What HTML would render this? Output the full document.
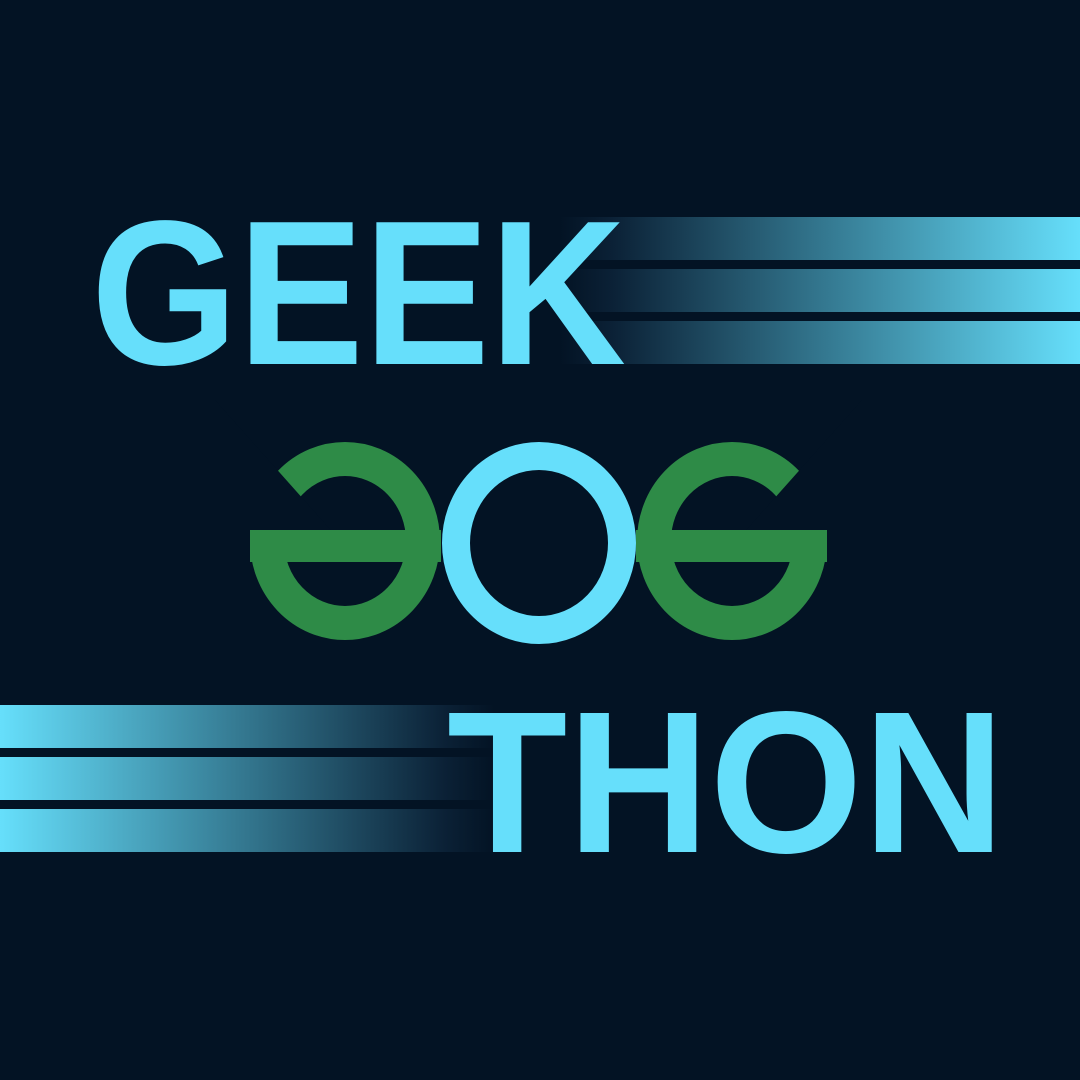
<!DOCTYPE html>
<html><head><meta charset="utf-8"><style>
html,body{margin:0;padding:0;background:#031324;}
svg{display:block}
</style></head><body>
<svg width="1080" height="1080" viewBox="0 0 1080 1080">
<defs>
<linearGradient id="gR" x1="0" x2="1" y1="0" y2="0">
<stop offset="0" stop-color="#031324"/><stop offset="0.1" stop-color="#0b2136"/><stop offset="0.5" stop-color="#33768e"/><stop offset="1" stop-color="#66dffb"/>
</linearGradient>
<linearGradient id="gL" x1="1" x2="0" y1="0" y2="0">
<stop offset="0" stop-color="#031324"/><stop offset="0.1" stop-color="#0b2136"/><stop offset="0.5" stop-color="#33768e"/><stop offset="1" stop-color="#66dffb"/>
</linearGradient>
</defs>
<rect width="1080" height="1080" fill="#031324"/>
<g>
<rect x="560" y="217" width="520" height="43" fill="url(#gR)"/>
<rect x="560" y="269" width="520" height="43" fill="url(#gR)"/>
<rect x="560" y="321" width="520" height="43" fill="url(#gR)"/>
</g>
<g>
<rect x="0" y="705" width="494" height="43" fill="url(#gL)"/>
<rect x="0" y="757" width="494" height="43" fill="url(#gL)"/>
<rect x="0" y="809" width="494" height="43" fill="url(#gL)"/>
</g>
<text x="91" y="364" font-family="'Liberation Sans', sans-serif" font-weight="700" font-size="206" fill="#66dffb" textLength="535" lengthAdjust="spacingAndGlyphs">GEEK</text>
<text x="447" y="852" font-family="'Liberation Sans', sans-serif" font-weight="700" font-size="202" fill="#66dffb" textLength="558" lengthAdjust="spacingAndGlyphs">THON</text>
<g>
<g>
<ellipse cx="345" cy="541" rx="78" ry="82" fill="none" stroke="#2e8b47" stroke-width="34"/>
<polygon points="345,546 215,400 215,546" fill="#031324"/>
<rect x="250" y="530" width="191" height="32" fill="#2e8b47"/>
</g>
<g>
<ellipse cx="732" cy="541" rx="78" ry="82" fill="none" stroke="#2e8b47" stroke-width="34"/>
<polygon points="732,546 862,400 862,546" fill="#031324"/>
<rect x="636" y="530" width="191" height="32" fill="#2e8b47"/>
</g>
<ellipse cx="539" cy="543" rx="83" ry="87" fill="none" stroke="#66dffb" stroke-width="28"/>
</g>
</svg>
</body></html>
